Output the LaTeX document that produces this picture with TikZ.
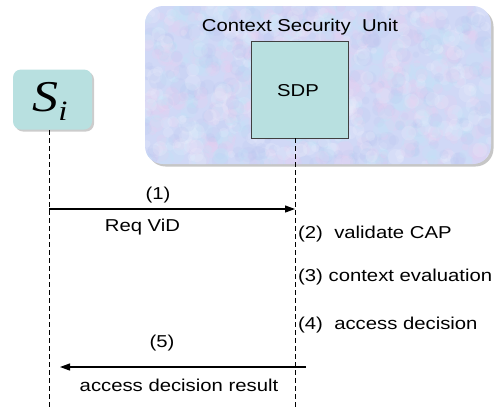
\documentclass[tikz,border=0pt]{standalone}
\usepackage{fontspec}
\setmainfont{Liberation Sans}[FakeStretch=1.18]
\newfontfamily\serifit{Liberation Serif}[FakeStretch=1.18]
\usetikzlibrary{shadows,arrows.meta}

\definecolor{unitbg}{RGB}{208,216,246}
\definecolor{boxfill}{RGB}{184,224,224}
\definecolor{texpink}{RGB}{236,206,240}
\definecolor{texcyan}{RGB}{190,232,248}
\definecolor{texblue}{RGB}{186,198,240}
\definecolor{texwhite}{RGB}{238,240,252}

\tikzset{
  lbl/.style={font=\fontsize{17.2}{20}\selectfont, inner sep=0pt},
  lifeline/.style={dash pattern=on 5pt off 3pt, line width=0.8pt},
  msg/.style={line width=1.2pt, -{Triangle[length=10pt,width=7pt]}},
  unitbox/.style={fill=unitbg, rounded corners=18pt, minimum width=346pt,
    minimum height=158pt, inner sep=0pt,
    drop shadow={shadow xshift=2.5pt, shadow yshift=-2.5pt, opacity=0.45}},
  procbox/.style={fill=boxfill, draw=black!75, line width=0.8pt,
    minimum size=97pt, inner sep=0pt},
  actorbox/.style={fill=boxfill, rounded corners=8pt, minimum width=79pt,
    minimum height=60pt, inner sep=0pt,
    drop shadow={shadow xshift=2pt, shadow yshift=-2pt, opacity=0.4}},
}

\pgfmathdeclarerandomlist{texture}{{texpink}{texcyan}{texblue}{texwhite}}

\begin{document}
\begin{tikzpicture}[x=1pt,y=-1pt]
\useasboundingbox (0,0) rectangle (494,408);

% Context Security Unit with a soft mottled background
\node[unitbox] (csu) at (318,85) {};
\begin{scope}
  \clip[rounded corners=18pt] (145,6) rectangle (491,164);
  \pgfmathsetseed{7}
  \foreach \k in {1,...,1100} {
    \pgfmathsetmacro\px{145+346*rnd}
    \pgfmathsetmacro\py{6+158*rnd}
    \pgfmathsetmacro\pr{3+6*rnd}
    \pgfmathrandomitem{\tc}{texture}
    \fill[\tc, opacity=0.22] (\px,\py) circle (\pr);
  }
\end{scope}
\node[lbl] (csutitle) at (300,27) {Context Security~ Unit};

% SDP
\node[procbox] (sdp) at (299.5,89.5) {};
\node[lbl] (sdplbl) at (298,91) {SDP};

% actor S_i
\node[actorbox] (si) at (52.5,99.5) {};
\node[inner sep=0pt] (silbl) at (50,101)
  {\serifit\itshape\fontsize{44}{44}\selectfont S\raisebox{-9pt}{\fontsize{28}{28}\selectfont i}};

% lifelines
\coordinate (siTop) at (49,130);
\coordinate (siBot) at (49,408);
\coordinate (sdpTop) at (295,138);
\coordinate (sdpBot) at (295,408);
\draw[lifeline] (siTop) -- (siBot);
\draw[lifeline] (sdpTop) -- (sdpBot);

% message (1)
\coordinate (m1s) at (49,209);
\coordinate (m1e) at (295,209);
\draw[msg] (m1s) -- (m1e);
\node[lbl] (n1) at (158,195) {(1)};
\node[lbl] (req) at (142.5,227) {Req ViD};

% internal steps at SDP
\node[lbl, anchor=west] (s2) at (298,234) {(2)~ validate CAP};
\node[lbl, anchor=west] (s3) at (298,277) {(3) context evaluation};
\node[lbl, anchor=west] (s4) at (298,325) {(4)~ access decision};

% message (5)
\coordinate (m5s) at (306,367);
\coordinate (m5e) at (60,367);
\draw[msg] (m5s) -- (m5e);
\node[lbl] (n5) at (162,343) {(5)};
\node[lbl] (res) at (179,385) {access decision result};
\end{tikzpicture}
\end{document}
